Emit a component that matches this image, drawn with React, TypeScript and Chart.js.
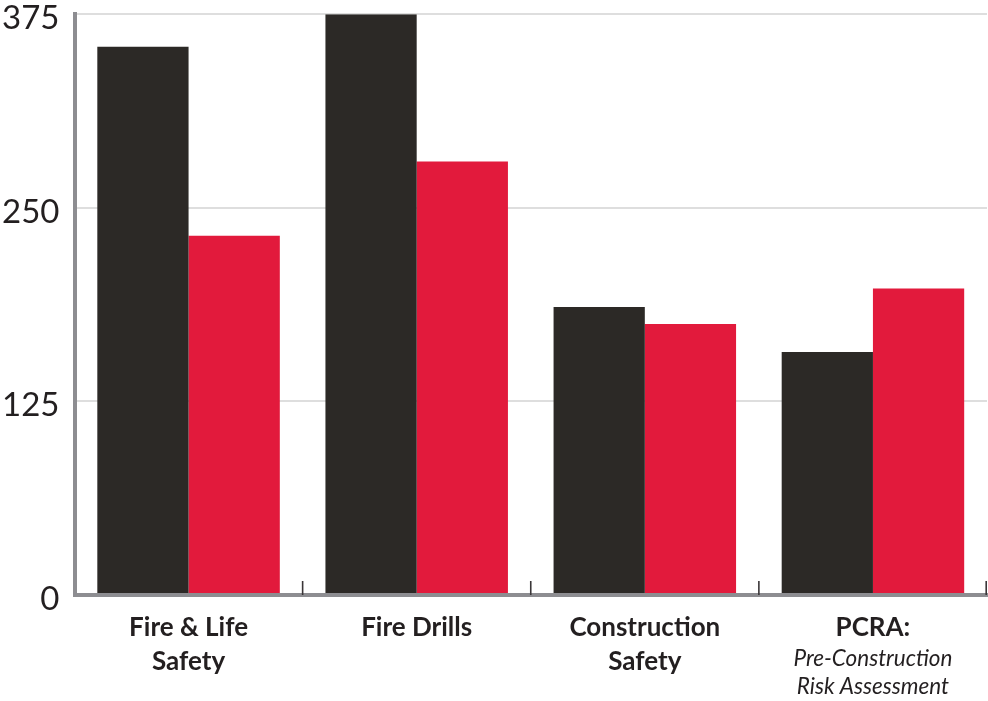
import React, { useEffect, useRef } from "react";
import { Chart, registerables } from "chart.js";

Chart.register(...registerables);

// ---- data ----
const categoryLines: string[][] = [
  ["Fire & Life", "Safety"],
  ["Fire Drills"],
  ["Construction", "Safety"],
  ["PCRA:"],
];
const categorySubLines: string[][] = [[], [], [], ["Pre-Construction", "Risk Assessment"]];
const seriesDark: number[] = [354, 375, 186, 157];
const seriesRed: number[] = [232, 280, 175, 198];
const yMin = 0;
const yMax = 375;
const yStep = 125;

const TEXT = "#231f20";
const AXIS = "#8d8d91";

const labelPlugin = {
  id: "categoryLabels",
  afterDraw(chart: any) {
    const { ctx, chartArea } = chart;
    const x = chart.scales.x;
    const n = categoryLines.length;
    ctx.save();
    // inner tick marks at category boundaries
    ctx.strokeStyle = "#3a3638";
    ctx.lineWidth = 1.6;
    for (let i = 0; i < n; i++) {
      const bx =
        i < n - 1
          ? (x.getPixelForValue(i) + x.getPixelForValue(i + 1)) / 2
          : chartArea.right - 0.8;
      ctx.beginPath();
      ctx.moveTo(bx, chartArea.bottom - 14);
      ctx.lineTo(bx, chartArea.bottom);
      ctx.stroke();
    }
    // labels
    ctx.fillStyle = TEXT;
    ctx.textAlign = "center";
    ctx.textBaseline = "alphabetic";
    for (let i = 0; i < n; i++) {
      const cx = x.getPixelForValue(i);
      ctx.font = "700 26px Lato";
      categoryLines[i].forEach((line, j) => {
        ctx.fillText(line, cx, chartArea.bottom + 41 + j * 34);
      });
      ctx.font = "italic 400 22.5px Lato";
      categorySubLines[i].forEach((line, j) => {
        ctx.fillText(line, cx, chartArea.bottom + 71 + j * 28);
      });
    }
    ctx.restore();
  },
};

export default function App() {
  const ref = useRef<HTMLCanvasElement | null>(null);
  useEffect(() => {
    if (!ref.current) return;
    const chart = new Chart(ref.current, {
      type: "bar",
      data: {
        labels: categoryLines.map((l) => l.join(" ")),
        datasets: [
          {
            data: seriesDark,
            backgroundColor: "#2c2926",
            borderWidth: 0,
            categoryPercentage: 0.8,
            barPercentage: 1.0,
          },
          {
            data: seriesRed,
            backgroundColor: "#e21a3c",
            borderWidth: 0,
            categoryPercentage: 0.8,
            barPercentage: 1.0,
          },
        ],
      },
      options: {
        animation: false,
        responsive: true,
        maintainAspectRatio: false,
        layout: { padding: { top: 0, right: 1, bottom: 0, left: 0 } },
        plugins: {
          legend: { display: false },
          tooltip: { enabled: false },
        },
        scales: {
          x: {
            grid: { display: false },
            border: { display: true, color: AXIS, width: 4, z: 1 },
            ticks: { display: false },
            afterFit: (s: any) => {
              s.height = 106;
            },
          },
          y: {
            min: yMin,
            max: yMax,
            ticks: {
              stepSize: yStep,
              color: TEXT,
              padding: 15,
              labelOffset: 4,
              font: { family: "Lato", size: 33, weight: "400", lineHeight: 0.8 },
            },
            grid: { color: "#dedede", lineWidth: 2, drawTicks: false },
            border: { display: true, color: AXIS, width: 4, z: 1 },
            afterFit: (s: any) => {
              s.width = 74.5;
              s.paddingTop = 14.3;
              s.paddingBottom = 0;
            },
          },
        },
      },
      plugins: [labelPlugin],
    });
    return () => chart.destroy();
  }, []);
  return (
    <div style={{ position: "absolute", left: 0, top: 0, width: 988, height: 701, background: "#fff" }}>
      <canvas ref={ref} />
    </div>
  );
}
